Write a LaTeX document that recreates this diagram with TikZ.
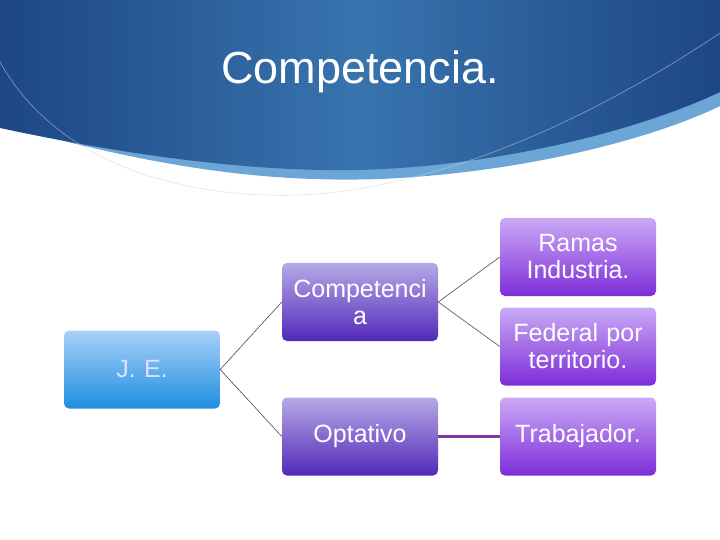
\documentclass[tikz,border=0pt]{standalone}
\usepackage{fontspec}
\setmainfont{Liberation Sans}
\definecolor{bandlight}{HTML}{6CA6D6}
\definecolor{bluedark}{HTML}{1D4784}
\definecolor{bluemid}{HTML}{3874AE}
\definecolor{jetop}{HTML}{A9D0F8}
\definecolor{jebot}{HTML}{1F8FE0}
\definecolor{ptopA}{HTML}{B6AAE6}
\definecolor{pbotA}{HTML}{5228B9}
\definecolor{ptopB}{HTML}{CAAAF6}
\definecolor{pbotB}{HTML}{7E2DD8}
\definecolor{linkc}{HTML}{4C4A5E}
\definecolor{thicklink}{HTML}{7A3CA0}
\tikzset{
  smartbox/.style={rounded corners=5bp, minimum width=156bp, minimum height=78bp,
    inner sep=0pt, text width=150bp, align=center, text=white,
    font=\fontsize{25bp}{27bp}\selectfont},
  bluebox/.style={smartbox, top color=jetop, bottom color=jebot, text=white!88!blue},
  purpA/.style={smartbox, top color=ptopA, bottom color=pbotA},
  purpB/.style={smartbox, top color=ptopB, bottom color=pbotB},
  thinlink/.style={draw=linkc, line width=0.6bp},
  boldlink/.style={draw=thicklink, line width=2.2bp}
}
\begin{document}
\begin{tikzpicture}[x=1bp,y=-1bp]
\useasboundingbox (0,0) rectangle (720,540);
\fill[white] (0,0) rectangle (720,540);
% banner light band
\fill[bandlight] (0,124) .. controls (150,166) and (260,183) .. (380,179)
  .. controls (520,173) and (650,140) .. (720,106) -- (720,0) -- (0,0) -- cycle;
% banner dark region
\shade[left color=bluedark, right color=bluedark, middle color=bluemid]
  (0,128) .. controls (140,158) and (260,172) .. (360,170)
  .. controls (500,166) and (640,130) .. (720,92) -- (720,0) -- (0,0) -- cycle;
% thin curve
\draw[gray!35, line width=0.6bp, opacity=0.6]
  (0,62) .. controls (60,170) and (200,205) .. (330,193)
  .. controls (480,175) and (620,100) .. (720,33);
% title
\node[text=white, font=\fontsize{45bp}{54bp}\selectfont] (title) at (360,72) {Competencia.};
% boxes
\node[bluebox] (je) at (142,369.5) {J. E.};
\node[purpA] (comp) at (360,302) {Competenci\\a};
\node[purpA] (opt) at (360,436.5) {Optativo};
\node[purpB] (ramas) at (578,257) {Ramas\\Industria.};
\node[purpB] (fed) at (578,346.5) {Federal por\\territorio.};
\node[purpB] (trab) at (578,436.5) {Trabajador.};
% connectors
\draw[thinlink] (je.east) -- (comp.west);
\draw[thinlink] (je.east) -- (opt.west);
\draw[thinlink] (comp.east) -- (ramas.west);
\draw[thinlink] (comp.east) -- (fed.west);
\draw[boldlink] (opt.east) -- (trab.west);
\end{tikzpicture}
\end{document}
